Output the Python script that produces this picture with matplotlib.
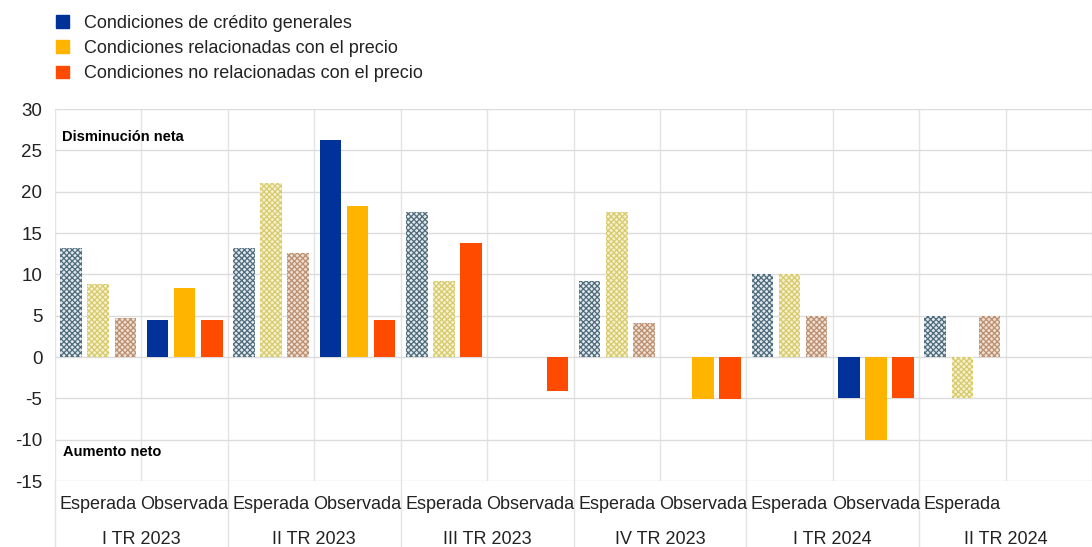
import numpy as np
import matplotlib
matplotlib.use('Agg')
import matplotlib.pyplot as plt
import matplotlib.transforms as mtransforms

plt.rcParams['font.family'] = ['Liberation Sans', 'DejaVu Sans']
plt.rcParams['hatch.linewidth'] = 0.9
plt.rcParams['axes.unicode_minus'] = False

#~ data
quarters = ['I TR 2023', 'II TR 2023', 'III TR 2023', 'IV TR 2023', 'I TR 2024', 'II TR 2024']
periods = ['Esperada', 'Observada'] * 5 + ['Esperada', '']
series = ['Condiciones de crédito generales',
          'Condiciones relacionadas con el precio',
          'Condiciones no relacionadas con el precio']
generales = [13.2, 4.5, 13.2, 26.2, 17.5, np.nan, 9.2, np.nan, 10.0, -5.0, 5.0, np.nan]
precio = [8.8, 8.4, 21.0, 18.3, 9.2, np.nan, 17.5, -5.1, 10.0, -10.0, -5.0, np.nan]
no_precio = [4.7, 4.5, 12.6, 4.5, 13.8, -4.1, 4.1, -5.1, 5.0, -5.0, 5.0, np.nan]

#~ styles
solid = ['#003299', '#ffb400', '#ff4b00']
light = ['#e2e8ec', '#f6f1cc', '#eedfd2']
hatchc = ['#4e6b7b', '#d6ca6e', '#bb8f70']
solid_esperada = {(2, 4)}   # series idx, category idx drawn solid

fig = plt.figure(figsize=(10.92, 5.47), dpi=100)
fig.patch.set_facecolor('white')
cw = 87.5
left = 55 / 1092.
ax = fig.add_axes([left, 1 - 481 / 547., 1 - left, 372 / 547.])
ncat = len(periods)
x = np.arange(ncat)
ax.set_xlim(-0.5, -0.5 + (1092 - 55) / cw)
ax.set_ylim(-15, 30)
ax.set_yticks(np.arange(-15, 31, 5))
ax.set_xticks([])
ax.set_xticks(np.arange(ncat + 1) - 0.5, minor=True)
ax.tick_params(axis='x', which='both', length=0, labelbottom=False)
ax.tick_params(axis='y', length=0, labelsize=13.5, pad=9, labelcolor='#222222')
ax.grid(True, which='major', axis='y', color='#dcdcdc', lw=1)
ax.grid(True, which='minor', axis='x', color='#e4e4e4', lw=1)
ax.set_axisbelow(True)
for s in ax.spines.values():
    s.set_visible(False)

width = 0.25
offs = [-0.314, 0, 0.314]
for k, vals in enumerate([generales, precio, no_precio]):
    for i in range(ncat):
        if np.isnan(vals[i]):
            continue
        if periods[i] == 'Esperada' and (k, i) not in solid_esperada:
            ax.bar(x[i] + offs[k], vals[i], width, color=light[k],
                   edgecolor=hatchc[k], hatch='xxxxxx', lw=0)
        else:
            ax.bar(x[i] + offs[k], vals[i], width, color=solid[k], lw=0)

handles = [plt.Rectangle((0, 0), 1, 1, color=c) for c in solid]
fig.legend(handles, series, loc='upper left', bbox_to_anchor=(0.040, 0.996),
           frameon=False, fontsize=13, handlelength=0.7, handleheight=0.7,
           handletextpad=0.85, labelspacing=0.46, borderaxespad=0.3,
           labelcolor='#222222')

trans = mtransforms.blended_transform_factory(ax.transData, ax.transAxes)
for i, p in enumerate(periods):
    ax.text(x[i], -0.063, p, transform=trans, ha='center', va='center', fontsize=13,
            color='#222222')
for q, name in enumerate(quarters):
    ax.text(2 * q + 0.5, -0.157, name, transform=trans, ha='center', va='center',
            fontsize=13, color='#222222')
    ax.plot([2 * q - 0.5, 2 * q - 0.5], [0, -0.2], transform=trans, color='#e4e4e4',
            lw=1, clip_on=False)

ax.text(0.007, 0.925, 'Disminución neta', transform=ax.transAxes, fontsize=10.5,
        fontweight='bold', va='center')
ax.text(0.008, 0.078, 'Aumento neto', transform=ax.transAxes, fontsize=10.5,
        fontweight='bold', va='center')

fig.savefig('out.png', dpi=100)
